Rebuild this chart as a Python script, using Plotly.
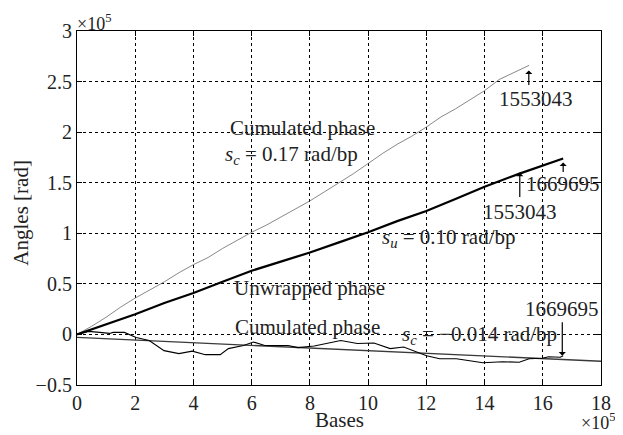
import plotly.graph_objects as go

# units: x in 1e5 bases, y in 1e5 rad
cum_x = [0, 0.5, 1, 1.5, 2, 2.5, 3, 3.5, 4, 4.5, 5, 5.5, 6, 6.5, 7, 7.5, 8, 8.5, 9, 9.5, 10,
         10.5, 11, 11.5, 12, 12.5, 13, 13.5, 14, 14.5, 15, 15.53]
cum_y = [0, 0.08, 0.17, 0.27, 0.36, 0.44, 0.52, 0.61, 0.69, 0.76, 0.85, 0.93, 1.01, 1.08, 1.16, 1.24,
         1.32, 1.41, 1.50, 1.59, 1.69, 1.79, 1.88, 1.96, 2.05, 2.15, 2.23, 2.32, 2.41, 2.52, 2.59, 2.66]

unw_x = [0, 1, 2, 3, 4, 5, 6, 7, 8, 9, 10, 11, 12, 13, 14, 15.2, 16.7]
unw_y = [0, 0.10, 0.20, 0.31, 0.41, 0.52, 0.63, 0.72, 0.81, 0.91, 1.01, 1.12, 1.22, 1.34, 1.46, 1.59, 1.74]

low_x = [0, 0.4, 0.78, 1.12, 1.24, 1.63, 2.03, 2.48, 2.99, 3.5, 3.96, 4.41, 4.92, 5.2, 5.72, 6.06,
         6.45, 7.25, 7.59, 8.15, 9.06, 9.63, 10.2, 10.76, 11.22, 11.56, 12.01, 12.46, 13.03, 13.49,
         13.94, 14.62, 15.19, 15.53, 15.98, 16.2, 16.6, 16.7]
low_y = [0, 0.03, 0.02, 0.01, 0.02, 0.02, -0.03, -0.06, -0.16, -0.19, -0.165, -0.2, -0.2, -0.14,
         -0.11, -0.075, -0.11, -0.11, -0.13, -0.115, -0.06, -0.09, -0.085, -0.14, -0.125, -0.16,
         -0.21, -0.24, -0.24, -0.26, -0.28, -0.27, -0.275, -0.24, -0.235, -0.22, -0.225, -0.21]

fit_x = [0, 18]
fit_y = [-0.03, -0.265]

xticks = [0, 2, 4, 6, 8, 10, 12, 14, 16, 18]
yticks = [-0.5, 0, 0.5, 1, 1.5, 2, 2.5, 3]
ytick_text = ["\u22120.5", "0", "0.5", "1", "1.5", "2", "2.5", "3"]

FONT = "Liberation Serif"
fig = go.Figure()
fig.add_trace(go.Scatter(x=cum_x, y=cum_y, mode="lines",
                         line=dict(color="#6a6a6a", width=0.8)))
fig.add_trace(go.Scatter(x=fit_x, y=fit_y, mode="lines",
                         line=dict(color="#3a3a3a", width=1.3)))
fig.add_trace(go.Scatter(x=low_x, y=low_y, mode="lines",
                         line=dict(color="#000000", width=1.1)))
fig.add_trace(go.Scatter(x=unw_x, y=unw_y, mode="lines",
                         line=dict(color="#000000", width=2.2)))

axis_common = dict(showgrid=True, gridcolor="black", griddash="dot", gridwidth=1,
                   zeroline=False, showline=True, linecolor="black", linewidth=1.2,
                   mirror="ticks", ticks="inside", ticklen=5, tickcolor="black",
                   tickfont=dict(family=FONT, size=20, color="#222"))
fig.update_xaxes(range=[0, 18], tickvals=xticks, **axis_common)
fig.update_yaxes(range=[-0.5, 3], tickvals=yticks, ticktext=ytick_text, **axis_common)

ann = []
tf = dict(family=FONT, size=21, color="#222")
sf = dict(family=FONT, size=18, color="#222")
def txt(x, y, s, xanchor="left"):
    ann.append(dict(x=x, y=y, text=s, showarrow=False, xanchor=xanchor, yanchor="middle", font=tf))

txt(5.17, 2.04, "Cumulated phase")
txt(5.03, 1.77, "<i>s<sub>c</sub></i> = 0.17 rad/bp")
txt(10.41, 0.95, "<i>s<sub>u</sub></i> = 0.10 rad/bp")
txt(5.34, 0.455, "Unwrapped phase")
txt(5.37, 0.07, "Cumulated phase")
txt(11.1, -0.01, "<i>s<sub>c</sub></i> = \u22120.014 rad/bp")
txt(15.77, 2.33, "1553043", "center")
txt(16.69, 1.49, "1669695", "center")
txt(15.21, 1.21, "1553043", "center")
txt(16.67, 0.25, "1669695", "center")

def arrow(x, y, ay):
    ann.append(dict(x=x, y=y, ax=0, ay=ay, text="", showarrow=True, arrowhead=1,
                    arrowsize=1, arrowwidth=1.2, arrowcolor="black"))

arrow(15.52, 2.61, 16)
arrow(16.7, 1.70, 11)
arrow(15.21, 1.60, 26)
arrow(16.67, -0.21, -35)

ann.append(dict(xref="paper", yref="paper", x=-0.004, y=0.985, xanchor="left", yanchor="bottom",
                text="\u00d710<sup>5</sup>", showarrow=False, font=sf))
ann.append(dict(xref="paper", yref="paper", x=1.03, y=-0.14, xanchor="right", yanchor="bottom",
                text="\u00d710<sup>5</sup>", showarrow=False, font=sf))
ann.append(dict(xref="paper", yref="paper", x=0.5, y=-0.1, xanchor="center", yanchor="middle",
                text="Bases", showarrow=False, font=tf))
ann.append(dict(xref="paper", yref="paper", x=-0.1075, y=0.486, xanchor="center", yanchor="middle",
                text="Angles [rad]", textangle=-90, showarrow=False, font=tf))

# the page body has an 8px margin, so the figure is 8px smaller each way
fig.update_layout(width=615, height=427, margin=dict(l=69, r=16, t=21, b=50),
                  paper_bgcolor="white", plot_bgcolor="white", showlegend=False,
                  annotations=ann, font=dict(family=FONT))
fig.write_html("out.html")
